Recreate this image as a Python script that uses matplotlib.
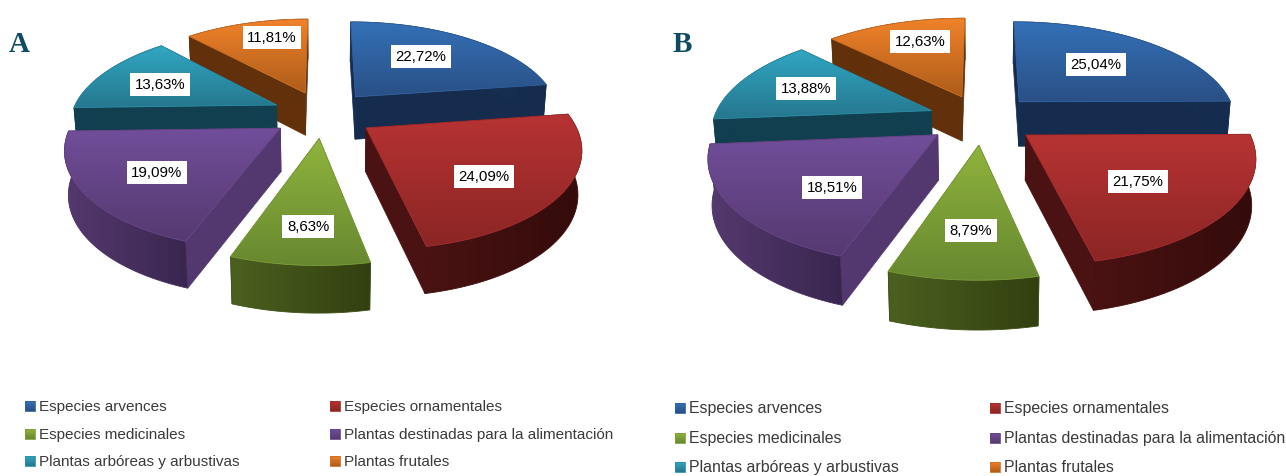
import numpy as np
import matplotlib
matplotlib.use('Agg')
import matplotlib.pyplot as plt
from matplotlib.colors import to_rgb
from matplotlib.patches import Polygon

categories = ['Especies arvences', 'Especies ornamentales', 'Especies medicinales',
              'Plantas destinadas para la alimentación', 'Plantas arbóreas y arbustivas', 'Plantas frutales']
values_a = [22.72, 24.09, 8.63, 19.09, 13.63, 11.81]
values_b = [25.04, 21.75, 8.79, 18.51, 13.88, 12.63]

# top start, top end, radial wall, rim wall left, rim wall right
colors = [
    ('#3470b6', '#2a5086', '#152c4e', '#1a3358', '#152c4e'),
    ('#b73333', '#8c2525', '#4a1212', '#4a1212', '#340b0b'),
    ('#8fb33d', '#688830', '#4b6020', '#4b6020', '#324010'),
    ('#714e9a', '#563970', '#533870', '#55396f', '#39264f'),
    ('#31a6c2', '#25778e', '#123f4f', '#123f4f', '#123f4f'),
    ('#f0822a', '#ad5c1a', '#62310b', '#62310b', '#62310b'),
]
draw_order = [5, 0, 4, 3, 1, 2]

# pixel layout of each panel
panel_a = dict(cx=323, cy=115, radius=205, ytilt=94, height=43, letter='A', letter_x=9, letter_y=52,
               labels=[(421, 57), (484, 177), (308, 227), (157, 173), (160, 85), (272, 38)],
               leg_x=(25, 330), leg_y=(407, 435, 462), leg_size=11.0)
panel_b = dict(cx=982, cy=120, radius=218, ytilt=100, height=45, letter='B', letter_x=673, letter_y=52,
               labels=[(1096, 65), (1138, 182), (971, 231), (832, 188), (806, 89), (920, 42)],
               leg_x=(675, 990), leg_y=(409, 439, 468), leg_size=11.4)

EXPLODE = 0.25
PERSP = 0.18
BOTTOM_SHRINK = 0.985

plt.rcParams['font.family'] = ['Liberation Sans', 'DejaVu Sans']

fig = plt.figure(figsize=(12.86, 4.77), dpi=100)
ax = fig.add_axes([0, 0, 1, 1])
zcount = [10]


def next_z():
    zcount[0] += 1
    return zcount[0]


def grad_fill(pts, c1, c2, vertical=True):
    pts = np.asarray(pts)
    z = next_z()
    t = np.linspace(0, 1, 64)
    c1, c2 = np.array(to_rgb(c1)), np.array(to_rgb(c2))
    arr = c1 + t[:, None] * (c2 - c1)
    arr = arr[:, None, :] if vertical else arr[None, :, :]
    x0, x1 = pts[:, 0].min(), pts[:, 0].max()
    y0, y1 = pts[:, 1].min(), pts[:, 1].max()
    im = ax.imshow(arr, extent=(x0, x1, y1, y0), aspect='auto', zorder=z, interpolation='bilinear')
    edge = tuple((c1 + c2) / 2)
    patch = Polygon(pts, closed=True, fc='none', ec=edge, lw=0.6, zorder=z)
    ax.add_patch(patch)
    im.set_clip_path(patch)


def project(p, x, y):
    d = 1 + PERSP * y
    sx = p['cx'] + p['radius'] * x / d
    sy = p['cy'] - p['ytilt'] * y / d
    return np.column_stack([sx, sy]), d


def lower(p, pts, d):
    out = pts.copy()
    out[:, 0] = p['cx'] + (pts[:, 0] - p['cx']) * BOTTOM_SHRINK
    out[:, 1] = pts[:, 1] + p['height'] / d ** 0.4
    return out


def draw_pie(values, p):
    vals = np.array(values, dtype=float)
    edges = np.concatenate([[0], np.cumsum(vals) / vals.sum() * 2 * np.pi])
    for i in draw_order:
        a0, a1 = edges[i], edges[i + 1]
        mid = (a0 + a1) / 2
        ox, oy = EXPLODE * np.sin(mid), EXPLODE * np.cos(mid)
        th = np.linspace(a0, a1, 60)
        rim, rim_d = project(p, ox + np.sin(th), oy + np.cos(th))
        apex, apex_d = project(p, np.array([ox]), np.array([oy]))
        rim_low = lower(p, rim, rim_d)
        apex_low = lower(p, apex, apex_d)
        top_c, bot_c, wall_c, rim_l, rim_r = colors[i]
        # side walls first, the top face hides whatever faces away
        for k in (0, -1):
            quad = [apex[0], rim[k], rim_low[k], apex_low[0]]
            ax.add_patch(Polygon(quad, closed=True, fc=wall_c, ec=wall_c, lw=0.5, zorder=next_z()))
        grad_fill(np.vstack([rim, rim_low[::-1]]), rim_l, rim_r, vertical=False)
        grad_fill(np.vstack([apex, rim]), top_c, bot_c)

    vals_txt = [f'{v:.2f}'.replace('.', ',') + '%' for v in values]
    for (x, y), txt in zip(p['labels'], vals_txt):
        ax.text(x, y, txt, ha='center', va='center', fontsize=10.8, color='black', zorder=500,
                bbox=dict(boxstyle='square,pad=0.3', fc='white', ec='none'))

    ax.text(p['letter_x'], p['letter_y'], p['letter'], family='Liberation Serif', fontweight='bold',
            fontsize=21, color='#0f4c63', ha='left', va='baseline', zorder=500)

    # legend, two columns, filled row by row
    for i, name in enumerate(categories):
        lx = p['leg_x'][i % 2]
        ly = p['leg_y'][i // 2]
        box = [(lx, ly - 5), (lx + 10, ly - 5), (lx + 10, ly + 5), (lx, ly + 5)]
        grad_fill(box, colors[i][0], colors[i][1])
        ax.text(lx + 14, ly, name, ha='left', va='center', fontsize=p['leg_size'], color='#3a3a3a', zorder=500)


draw_pie(values_a, panel_a)
draw_pie(values_b, panel_b)

ax.set_xlim(0, 1286)
ax.set_ylim(477, 0)
ax.axis('off')
fig.savefig('out.png', dpi=100, facecolor='white')
